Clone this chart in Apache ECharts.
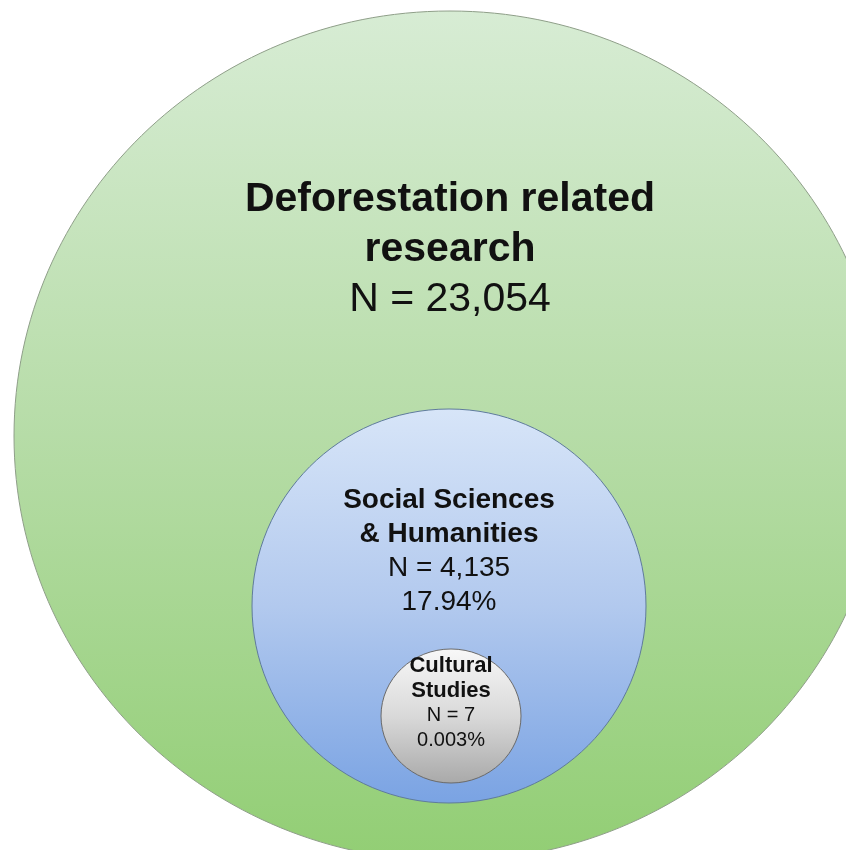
<!DOCTYPE html>
<html lang="en">
<head>
<meta charset="UTF-8">
<title>Deforestation related research</title>
<style>html,body{margin:0;background:#fff;}</style>
</head>
<body>
<div id="app" style="width:846px;height:850px;"></div>
<script src="https://cdn.jsdelivr.net/npm/echarts@6/dist/echarts.min.js"></script>
<script>
// data
const groups = ['Deforestation related research', 'Social Sciences & Humanities', 'Cultural Studies'];
const nameLines = [['Deforestation related', 'research'], ['Social Sciences', '& Humanities'], ['Cultural', 'Studies']];
const counts = [23054, 4135, 7];
const shares = ['', '17.94%', '0.003%'];

// layout of the nested circles (page pixels)
const centerX = [450, 449, 451];
const centerY = [436, 606, 716];
const radiusX = [436, 197, 70];
const radiusY = [425, 197, 67];
const textY = [250, 551, 703];

const boldSize = [41, 28, 22];
const normSize = [41, 28, 20];
const lineH = [50, 34, 25];
const fills = [
    [[0, '#d7ecd4'], [0.5, '#b6dca7'], [1, '#92ce74']],
    [[0, '#d7e5f8'], [0.5, '#b2c9ee'], [1, '#7aa3e3']],
    [[0, '#f8f8f8'], [0.5, '#d9d9d9'], [1, '#a9a9a9']]
];
const strokes = ['#8e9e88', '#5f7b9c', '#6a6a6a'];

const myChart = echarts.init(document.getElementById('app'));

function renderItem(params, api) {
    const i = params.dataIndex;
    const c = api.coord([api.value(0), api.value(1)]);
    const s = api.size([radiusX[i] * 2, radiusY[i] * 2], [api.value(0), api.value(1)]);
    const t = api.coord([api.value(0), textY[i]]);
    let lines = nameLines[i].map(l => '{b|' + l + '}');
    lines.push('{n|N = ' + api.value(2).toLocaleString('en-US') + '}');
    if (shares[i]) lines.push('{n|' + shares[i] + '}');
    return {
        type: 'group',
        children: [{
            type: 'ellipse',
            shape: {cx: c[0], cy: c[1], rx: s[0] / 2, ry: s[1] / 2},
            style: {
                fill: new echarts.graphic.LinearGradient(0, 0, 0, 1,
                    fills[i].map(f => ({offset: f[0], color: f[1]}))),
                stroke: strokes[i],
                lineWidth: 1
            }
        }, {
            type: 'text',
            x: t[0],
            y: t[1],
            style: {
                text: lines.join('\n'),
                align: 'center',
                verticalAlign: 'middle',
                rich: {
                    b: {fontFamily: 'Liberation Sans, Arial, sans-serif', fontWeight: 'bold',
                        fontSize: boldSize[i], lineHeight: lineH[i], fill: '#111', align: 'center'},
                    n: {fontFamily: 'Liberation Sans, Arial, sans-serif', fontWeight: 'normal',
                        fontSize: normSize[i], lineHeight: lineH[i], fill: '#111', align: 'center'}
                }
            }
        }]
    };
}

const options = {
    animation: false,
    grid: {left: 0, right: 0, top: 0, bottom: 0},
    xAxis: {type: 'value', min: 0, max: 846, show: false},
    yAxis: {type: 'value', min: 0, max: 850, inverse: true, show: false},
    series: [{
        type: 'custom',
        clip: false,
        renderItem: renderItem,
        data: counts.map((n, i) => ({name: groups[i], value: [centerX[i], centerY[i], n]}))
    }]
};
myChart.setOption(options);
</script>
</body>
</html>
